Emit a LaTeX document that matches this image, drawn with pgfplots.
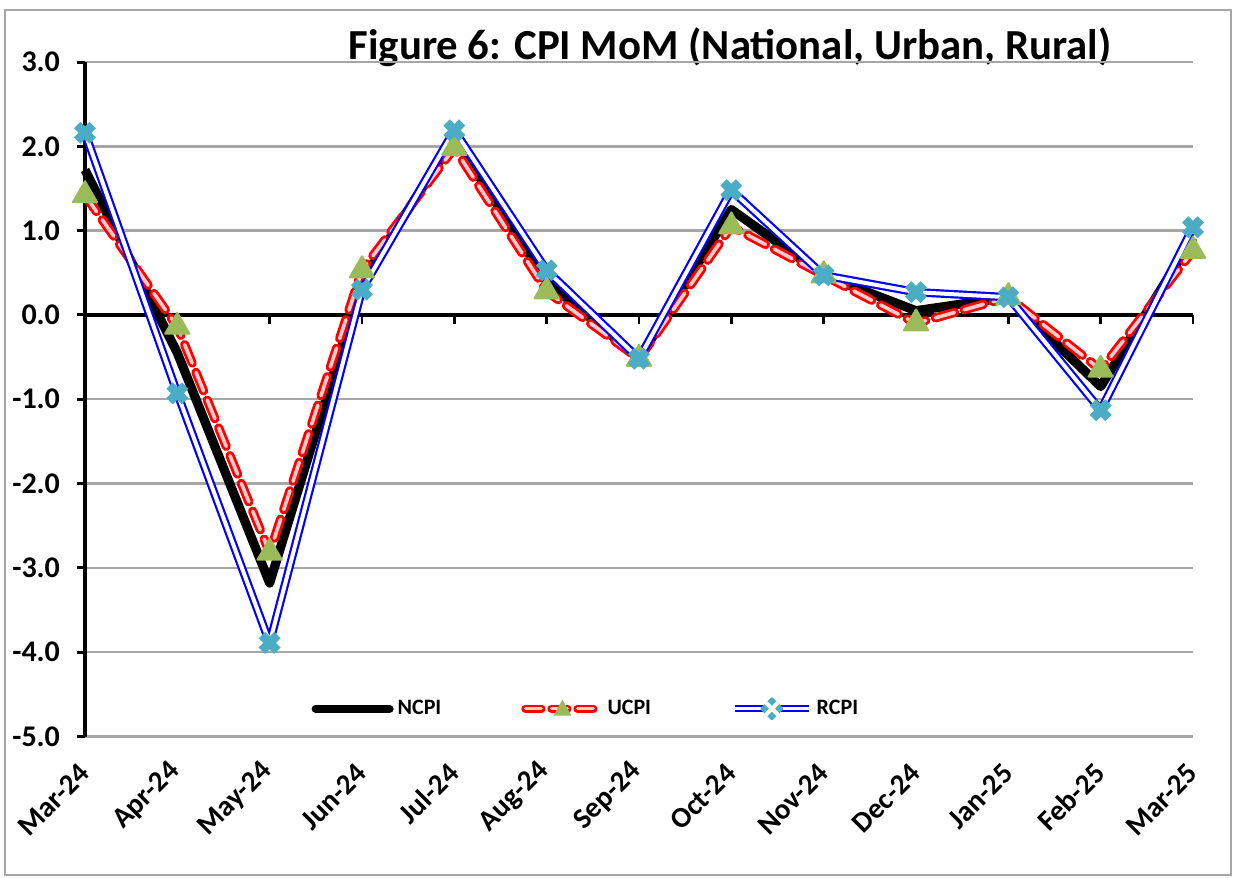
\documentclass[border=0pt]{standalone}
\usepackage{pgfplots}
\pgfplotsset{compat=1.18}
\usepackage{pgfplotstable}
\usepackage{fontspec}
\setmainfont{Carlito}
\definecolor{ugreen}{HTML}{9BBB59}
\definecolor{rcyan}{HTML}{4BACC6}
\definecolor{gridgray}{HTML}{A6A6A6}
\pgfplotstableread{
x  ncpi  ucpi  rcpi
0  1.72  1.42  2.16
1  -0.45 -0.14 -0.93
2  -3.18 -2.82 -3.89
3  0.40  0.53  0.30
4  2.10  1.98  2.19
5  0.40  0.28  0.53
6  -0.52 -0.52 -0.52
7  1.25  1.05  1.48
8  0.47  0.47  0.47
9  0.05  -0.10 0.27
10 0.21  0.21  0.21
11 -0.85 -0.65 -1.13
12 0.92  0.76  1.04
}\cpi
\begin{document}
\begin{tikzpicture}
\useasboundingbox (0pt,0pt) rectangle (617pt,438.5pt);
\draw[gray!70, line width=1pt] (2.5pt,1pt) rectangle (615.5pt,433.5pt);
\node[anchor=base, font=\bfseries\fontsize{21.4}{24}\selectfont] at (365pt,408.5pt) {Figure 6: CPI MoM (National, Urban, Rural)};
\begin{axis}[
  at={(42.5pt,70.25pt)}, anchor=south west,
  scale only axis, width=554pt, height=337.25pt,
  xmin=0, xmax=12, ymin=-5, ymax=3,
  separate axis lines,
  axis x line*=bottom, axis y line*=left,
  x axis line style={draw=none},
  y axis line style={black, line width=2pt, -},
  xtick={0,...,12},
  xticklabels={Mar-24,Apr-24,May-24,Jun-24,Jul-24,Aug-24,Sep-24,Oct-24,Nov-24,Dec-24,Jan-25,Feb-25,Mar-25},
  x tick style={draw=none},
  xticklabel style={inner sep=0pt, anchor=south east, xshift=3.5pt, yshift=-19.5pt, rotate=45, font=\bfseries\fontsize{14.5}{17}\selectfont},
  ytick={-5,-4,...,3},
  y tick style={black, line width=1.5pt},
  ytick align=outside, major tick length=4pt,
  ymajorgrids, grid style={gridgray, line width=1.2pt},
  yticklabel style={font=\bfseries\fontsize{15}{18}\selectfont, xshift=-5pt},
  y tick label style={/pgf/number format/.cd, fixed, fixed zerofill, precision=1, assume math mode=true},
  clip=false,
  legend columns=3,
  legend style={draw=none, fill=none, at={(axis cs:2.45,-4.67)}, anchor=west, inner sep=0pt,
    font=\bfseries\fontsize{11}{13}\selectfont,
    /tikz/every even column/.append style={column sep=38pt}},
]
\draw[black, line width=1.8pt] (axis cs:0,0) -- (axis cs:12,0);
\pgfplotsinvokeforeach{1,...,12}{\draw[black, line width=1.3pt] (axis cs:#1,0) -- ([yshift=-4.5pt]axis cs:#1,0);}
\addplot[black, line width=4.6pt, line join=round,
  legend image code/.code={\draw[black, line width=4pt, line cap=round] (0pt,0pt) -- (37pt,0pt);}]
  table[x=x, y=ncpi] {\cpi};
\addlegendentry{NCPI}
\addplot[red, line width=1.4pt, double=red!20, double distance=1.8pt, dash pattern=on 10pt off 5pt, line join=round, line cap=round,
  legend image code/.code={\draw[red, line width=1.3pt, double=red!20, double distance=1.5pt, dash pattern=on 8pt off 5pt, line cap=round] (0pt,0pt) -- (37pt,0pt);
    \pgfsetfillcolor{ugreen}\pgfpathmoveto{\pgfpoint{18.5pt}{4.5pt}}\pgfpathlineto{\pgfpoint{14pt}{-3.5pt}}\pgfpathlineto{\pgfpoint{23pt}{-3.5pt}}\pgfpathclose\pgfusepath{fill}}]
  table[x=x, y=ucpi] {\cpi};
\addlegendentry{UCPI}
\addplot[blue, line width=1.1pt, double=white, double distance=2pt, line join=round,
  legend image code/.code={\draw[blue, line width=1.1pt, double=white, double distance=1.6pt] (0pt,0pt) -- (37pt,0pt);
    \draw[rcyan, line width=2.8pt] (15.5pt,-3pt) -- (21.5pt,3pt) (15.5pt,3pt) -- (21.5pt,-3pt);}]
  table[x=x, y=rcpi] {\cpi};
\addlegendentry{RCPI}
\addplot[only marks, mark=triangle*, mark size=7pt, mark options={fill=ugreen, draw=ugreen, solid, line join=round, line width=1pt}, forget plot]
  table[x=x, y=ucpi] {\cpi};
\addplot[only marks, mark=x, mark size=5.5pt, mark options={draw=rcyan, line width=4.5pt, solid}, forget plot]
  table[x=x, y=rcpi] {\cpi};
\end{axis}
\end{tikzpicture}
\end{document}
